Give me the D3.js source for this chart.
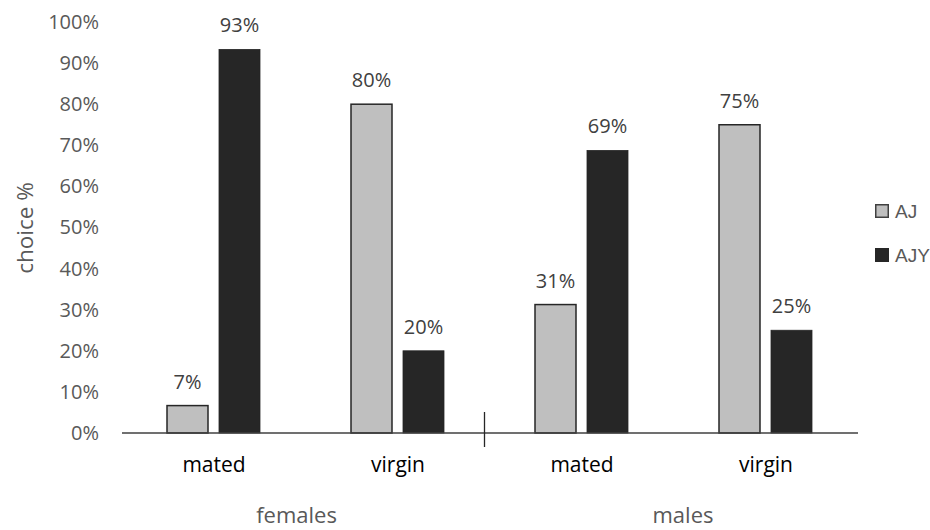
<!DOCTYPE html>
<html>
<head>
<meta charset="utf-8">
<script src="https://cdn.jsdelivr.net/npm/d3@7"></script>
<style>
  html, body { margin: 0; padding: 0; background: #fff; }
  svg { display: block; font-family: "Open Sans", sans-serif; }
</style>
</head>
<body>
<svg id="chart" width="930" height="530"></svg>
<script>
// Choice percentages per group (sex) and mating status
const groups = ["females", "males"];
const statuses = ["mated", "virgin"];
const seriesNames = ["AJ", "AJY"];
const ajValues = [6.67, 80, 31.25, 75];
const ajyValues = [93.33, 20, 68.75, 25];
const yTicks = [0, 10, 20, 30, 40, 50, 60, 70, 80, 90, 100];

const colors = { AJ: "#bfbfbf", AJY: "#262626" };

// one row per (group, status) category
const rows = [];
groups.forEach(g => statuses.forEach(s => rows.push({ key: g + "-" + s, group: g, status: s })));
rows.forEach((r, i) => { r.AJ = ajValues[i]; r.AJY = ajyValues[i]; });

const svg = d3.select("#chart");

const x0 = d3.scaleBand().domain(rows.map(r => r.key)).range([122, 858]).padding(0);
const x1 = d3.scaleBand().domain(seriesNames).range([45, 138]).paddingInner(11 / 52).paddingOuter(0);
const y = d3.scaleLinear().domain([0, 100]).range([433, 22]);

// y tick labels (no axis line, no gridlines)
const yAxis = d3.axisLeft(y).tickValues(yTicks).tickFormat(d => d + "%").tickSize(0).tickPadding(0);
const gy = svg.append("g").attr("transform", "translate(99,0)").call(yAxis);
gy.select(".domain").remove();
gy.selectAll("text")
  .attr("fill", "#595959")
  .style("font-size", "20px")
  .style("font-family", "'Open Sans', sans-serif");

// y axis title
svg.append("text")
  .attr("transform", "translate(33,228) rotate(-90)")
  .attr("text-anchor", "middle")
  .attr("fill", "#595959")
  .style("font-size", "22.5px")
  .text("choice %");

// bars
const barG = svg.append("g");
rows.forEach(r => {
  const g = barG.append("g").attr("transform", `translate(${x0(r.key)},0)`);
  seriesNames.forEach(s => {
    g.append("rect")
      .attr("x", x1(s))
      .attr("y", y(r[s]))
      .attr("width", x1.bandwidth())
      .attr("height", y(0) - y(r[s]))
      .attr("fill", colors[s])
      .attr("stroke", "#262626")
      .attr("stroke-width", s === "AJ" ? 1.5 : 0.8);
    g.append("text")
      .attr("x", x1(s) + x1.bandwidth() / 2)
      .attr("y", y(r[s]) - 17)
      .attr("text-anchor", "middle")
      .attr("fill", "#404040")
      .style("font-size", "20px")
      .text(Math.round(r[s]) + "%");
  });
});

// category axis
const xAxis = d3.axisBottom(x0).tickSize(0).tickPadding(0).tickFormat(k => k.split("-")[1]);
const gx = svg.append("g").attr("transform", `translate(0,${y(0)})`).call(xAxis);
gx.select(".domain").attr("stroke", "#404040").attr("stroke-width", 1.4).attr("d", `M${x0.range()[0]},0H${x0.range()[1]}`);
gx.selectAll("text")
  .attr("dy", null)
  .attr("y", 39)
  .attr("fill", "#000")
  .style("font-size", "21px")
  .style("font-family", "'Open Sans', sans-serif");

// divider between the two groups
const divX = x0(rows[2].key) - 5.5;
svg.append("line")
  .attr("x1", divX).attr("x2", divX)
  .attr("y1", y(0) - 21).attr("y2", y(0) + 14)
  .attr("stroke", "#262626").attr("stroke-width", 1.3);

// group labels
const groupNudge = { females: -9.5, males: 9 };
groups.forEach(g => {
  const keys = rows.filter(r => r.group === g).map(r => r.key);
  const cx = (x0(keys[0]) + x0(keys[keys.length - 1]) + x0.bandwidth()) / 2 + groupNudge[g];
  svg.append("text")
    .attr("x", cx)
    .attr("y", 523)
    .attr("text-anchor", "middle")
    .attr("fill", "#595959")
    .style("font-size", "22px")
    .text(g);
});

// legend
const legend = svg.append("g").attr("transform", "translate(875,204)");
seriesNames.forEach((s, i) => {
  const item = legend.append("g").attr("transform", `translate(0,${i * 44})`);
  item.append("rect")
    .attr("x", s === "AJ" ? 0.75 : 0).attr("y", s === "AJ" ? 0.75 : 0)
    .attr("width", s === "AJ" ? 12.5 : 14).attr("height", s === "AJ" ? 12.5 : 14)
    .attr("fill", colors[s])
    .attr("stroke", s === "AJ" ? "#404040" : "none")
    .attr("stroke-width", 1.5);
  item.append("text")
    .attr("x", 20)
    .attr("y", 14)
    .attr("fill", "#595959")
    .style("font-size", "19px")
    .style("font-family", "'Liberation Sans', Arial, sans-serif")
    .text(s);
});
</script>
</body>
</html>
